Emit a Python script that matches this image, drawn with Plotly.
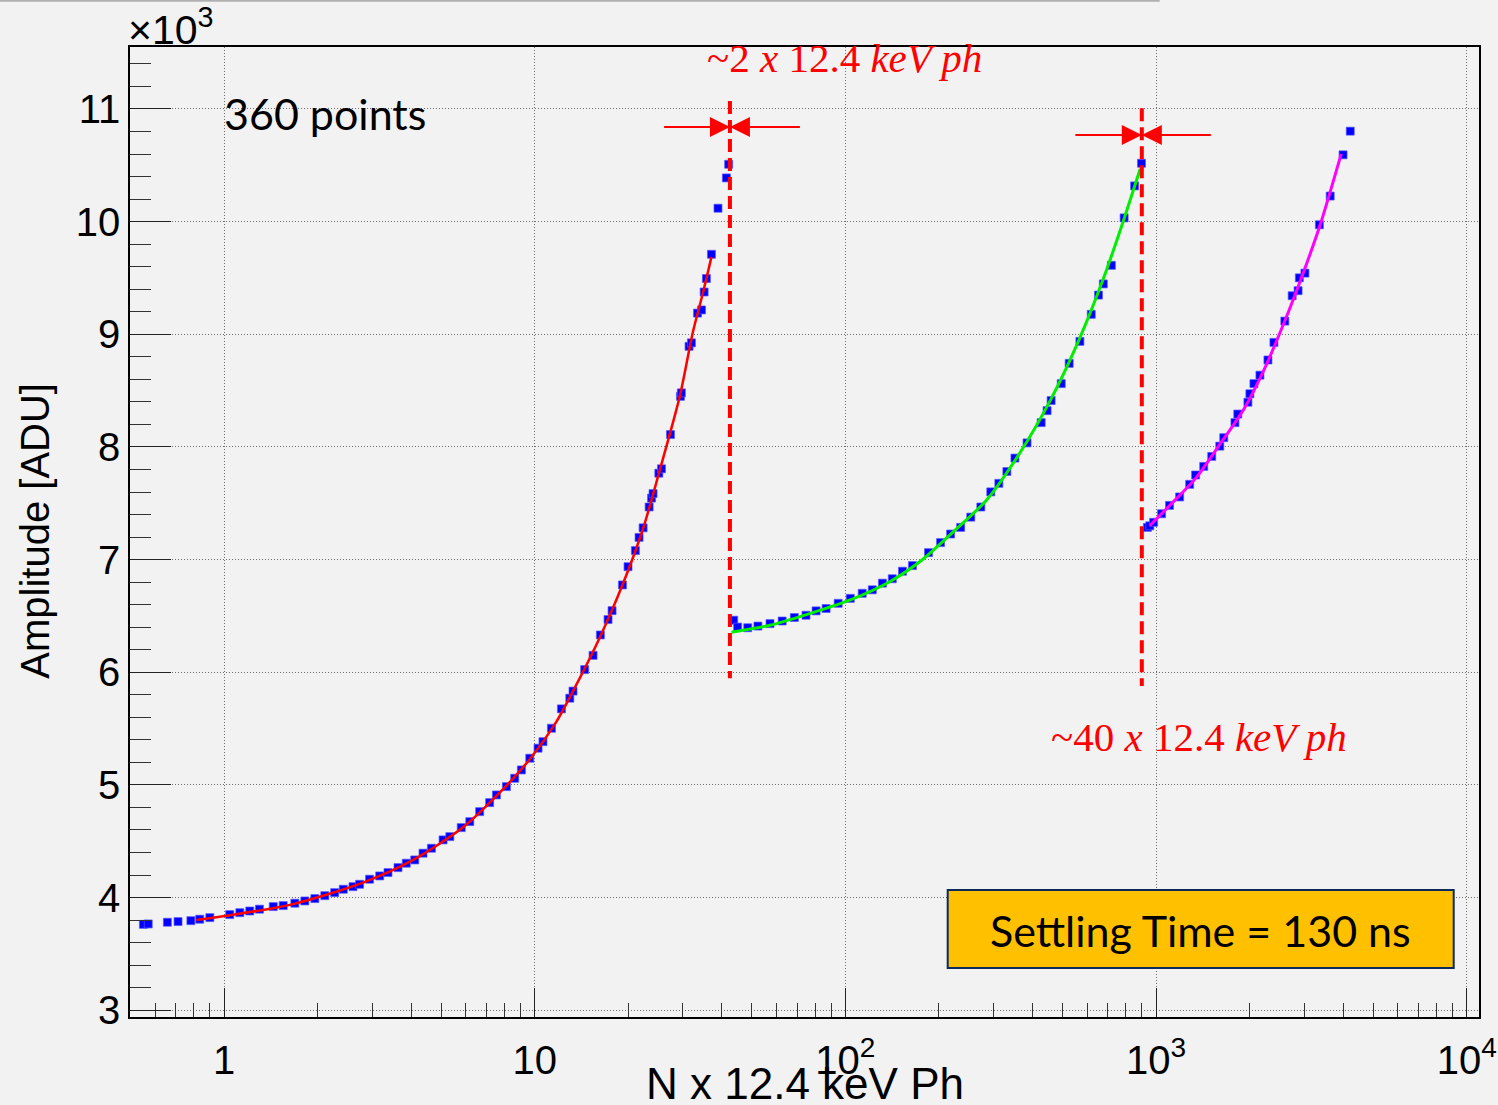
import math
import plotly.graph_objects as go

# ---------------- measured points (N photons, amplitude in ADU) ----------------
n_low = [0.55, 0.57, 0.657, 0.711, 0.782, 0.835, 0.900, 1.043, 1.124, 1.21, 1.30, 1.44,
         1.55, 1.69, 1.82, 1.96, 2.11, 2.27, 2.42, 2.60, 2.73, 2.94, 3.17, 3.37, 3.63,
         3.86, 4.11, 4.37, 4.65, 5.07, 5.33, 5.80, 6.18, 6.65, 7.16, 7.53, 8.11, 8.62,
         9.06, 9.64, 10.25, 10.63, 11.32, 12.19, 12.97, 13.28, 14.48, 15.41, 16.27,
         17.22, 17.74, 19.16, 19.97, 21.09, 21.67, 22.33, 23.35, 23.77, 24.04, 25.09,
         25.59, 27.35, 29.45, 29.65, 31.39, 31.95, 33.42, 34.43, 35.10, 35.70, 37.06,
         38.9, 41.4, 42.1]
amp_low = [3762, 3766, 3781, 3787, 3795, 3808, 3822, 3849, 3866, 3881, 3897, 3920,
           3929, 3950, 3970, 3991, 4017, 4044, 4074, 4097, 4118, 4163, 4192, 4222, 4266,
           4305, 4334, 4394, 4438, 4512, 4541, 4621, 4674, 4763, 4843, 4911, 4985, 5059,
           5133, 5237, 5326, 5384, 5503, 5675, 5770, 5833, 6024, 6150, 6331,
           6468, 6547, 6775, 6937, 7080, 7197, 7282, 7467, 7546, 7586, 7767,
           7806, 8110, 8449, 8480, 8893, 8924, 9188, 9216, 9375, 9495, 9710,
           10119, 10388, 10509]

n_mid = [43.7, 45.0, 48.5, 52.3, 57.2, 62.6, 68.5, 74.7, 80.5, 86.7, 94.8, 103.7, 113.3,
         122.1, 131.6, 141.6, 152.7, 164.4, 185.2, 202.5, 218.1, 235.0, 253.3, 272.9,
         293.8, 311.9, 331.0, 351.4, 384.4, 426.9, 446.0, 459.5, 495.3, 525.3, 568.8,
         618.7, 652.8, 676.6, 718.2, 789.4, 853.1, 897.7]
amp_mid = [6462, 6401, 6395, 6410, 6432, 6455, 6486, 6506, 6545, 6566, 6612, 6656, 6701,
           6732, 6791, 6830, 6897, 6947, 7062, 7151, 7227, 7286, 7377, 7467,
           7601, 7677, 7782, 7901, 8036, 8216, 8322, 8412, 8562, 8742, 8937,
           9177, 9348, 9447, 9612, 10033, 10317, 10518]

n_high = [938, 955, 982, 1042, 1105, 1191, 1283, 1341, 1424, 1511, 1604, 1652, 1795, 1833,
          1976, 2005, 2066, 2160, 2292, 2396, 2598, 2743, 2866, 2893, 3015, 3356,
          3636, 4000, 4219]
amp_high = [7286, 7300, 7331, 7407, 7481, 7556, 7668, 7751, 7827, 7916, 8007, 8082, 8216, 8292,
            8397, 8472, 8562, 8637, 8772, 8928, 9117, 9342, 9387, 9501, 9543, 9972,
            10227, 10593, 10803]

# ---------------- fitted curves ----------------
fit_low_n = [0.815, 1.005, 1.63, 2.80, 4.06, 5.88, 7.53, 9.64, 11.75, 13.78, 16.2, 19.23,
             22.33, 25.2, 29.3, 32.3, 34.8, 37.05]
fit_low_amp = [3801, 3837, 3935, 4133, 4334, 4624, 4902, 5228, 5562, 5917, 6309, 6785,
               7276, 7783, 8449, 9020, 9368, 9685]

fit_mid_n = [43.0, 57.2, 76.7, 103.7, 139.3, 177.3, 221.5, 284.5, 361.6, 459.5, 565.6,
             676.6, 784.0, 889.0]
fit_mid_amp = [6356, 6417, 6521, 6642, 6806, 7001, 7242, 7527, 7932, 8427, 8953,
               9492, 10002, 10467]

fit_high_n = [954, 1122, 1341, 1604, 1919, 2224, 2583, 2998, 3376, 3946]
fit_high_amp = [7301, 7497, 7721, 8022, 8337, 8682, 9102, 9567, 9972, 10602]

# ---------------- range boundaries and markers ----------------
switch_n = [42.5, 900]            # gain-switch thresholds
switch_top = [11070, 11006]
switch_bottom = [5947, 5879]
arrow_amp = [10840, 10769]
arrow_left = [25.8, 544]
arrow_right = [72.2, 1518]

x_tickvals = [1, 10, 100, 1000, 10000]
x_ticktext = ["1", "10", "10<sup>2</sup>", "10<sup>3</sup>", "10<sup>4</sup>"]
y_tickvals = [3000, 4000, 5000, 6000, 7000, 8000, 9000, 10000, 11000]
y_ticktext = ["3", "4", "5", "6", "7", "8", "9", "10", "11"]

X_RANGE = [math.log10(0.498), math.log10(10956)]
Y_RANGE = [2940, 11550]

BG = "#f2f2f2"
SANS = "Liberation Sans, Arial, sans-serif"
AXIS_FONT = dict(family=SANS, size=40, color="black")
SERIF_RED = dict(family="Liberation Serif, serif", size=41, color="#ff0000")

fig = go.Figure()

# measured points
for xs, ys in [(n_low, amp_low), (n_mid, amp_mid), (n_high, amp_high)]:
    fig.add_trace(go.Scatter(
        x=xs, y=ys, mode="markers",
        marker=dict(symbol="square", size=8, color="#0000ff",
                    line=dict(width=1, color="rgba(90,90,255,0.7)")),
        hoverinfo="x+y"))

# fitted curves
for xs, ys, col, w in [(fit_low_n, fit_low_amp, "#ff0000", 2.5),
                       (fit_mid_n, fit_mid_amp, "#00ee00", 3),
                       (fit_high_n, fit_high_amp, "#ff00ff", 3)]:
    fig.add_trace(go.Scatter(x=xs, y=ys, mode="lines",
                             line=dict(color=col, width=w, shape="spline", smoothing=0.8),
                             hoverinfo="skip"))

# dashed switch lines
for xv, y0, y1 in zip(switch_n, switch_top, switch_bottom):
    fig.add_trace(go.Scatter(x=[xv, xv], y=[y0, y1], mode="lines",
                             line=dict(color="#ff0000", width=4, dash="13px,6px"),
                             hoverinfo="skip"))

annotations = []
# inward arrows marking each threshold
for xv, ya, xl, xr in zip(switch_n, arrow_amp, arrow_left, arrow_right):
    for start in (xl, xr):
        annotations.append(dict(
            x=math.log10(xv), y=ya, ax=math.log10(start), ay=ya,
            xref="x", yref="y", axref="x", ayref="y",
            text="", showarrow=True, arrowhead=2, arrowsize=2,
            arrowwidth=2, arrowcolor="#ff0000", standoff=0))

W_PLOT = 1349.0
H_PLOT = 970.0


def px_x(p):
    return (p - 130.3) / W_PLOT


def px_y(p):
    return (1017.0 - p) / H_PLOT


annotations += [
    dict(text="~2 <i>x</i> 12.4 <i>keV ph</i>", x=px_x(845), y=px_y(58),
         xref="paper", yref="paper", showarrow=False, font=SERIF_RED,
         xanchor="center", yanchor="middle"),
    dict(text="~40 <i>x</i> 12.4 <i>keV ph</i>", x=px_x(1199), y=px_y(737),
         xref="paper", yref="paper", showarrow=False, font=SERIF_RED,
         xanchor="center", yanchor="middle"),
    dict(text="360 points", x=px_x(222), y=px_y(114), xref="paper", yref="paper",
         showarrow=False, xanchor="left", yanchor="middle",
         font=dict(family="Lato, sans-serif", size=43, color="black")),
    dict(text="Settling Time = 130 ns", x=px_x(1201), y=px_y(930), xref="paper",
         yref="paper", showarrow=False, xanchor="center", yanchor="middle",
         font=dict(family="Lato, sans-serif", size=43, color="black")),
    dict(text="\u00d710<sup>3</sup>", x=0, y=1, xref="paper", yref="paper",
         showarrow=False, xanchor="left", yanchor="bottom", yshift=-8, xshift=-4,
         font=dict(family=SANS, size=41, color="black")),
    dict(text="N x 12.4 keV Ph", x=px_x(805), y=px_y(1083), xref="paper", yref="paper",
         showarrow=False, xanchor="center", yanchor="middle",
         font=dict(family=SANS, size=44, color="black")),
    dict(text="Amplitude [ADU]", x=px_x(35), y=px_y(531), xref="paper", yref="paper",
         showarrow=False, xanchor="center", yanchor="middle", textangle=-90,
         font=AXIS_FONT),
]

shapes = [
    # settling time box
    dict(type="rect", xref="paper", yref="paper", x0=px_x(948), x1=px_x(1454),
         y0=px_y(968), y1=px_y(890), fillcolor="#ffc000",
         line=dict(color="#0b2a5c", width=2), layer="above"),
    # thin frame line along the top of the page
    dict(type="line", xref="paper", yref="paper", x0=px_x(0), x1=px_x(1160),
         y0=px_y(0.8), y1=px_y(0.8), line=dict(color="#b0b0b0", width=2)),
]

x_minor = [d * 10 ** k for k in range(-1, 4) for d in range(2, 10)
           if 0.498 <= d * 10 ** k <= 10956]
y_minor = [v for v in range(3000, 11600, 200) if v % 1000 != 0]

grid_style = dict(showgrid=True, gridcolor="#6e6e6e", gridwidth=1, griddash="1px,2px",
                  zeroline=False, showline=True, linecolor="black", linewidth=1.5,
                  mirror=True, ticks="inside", tickwidth=1, tickcolor="#222",
                  tickfont=AXIS_FONT, automargin=False)

fig.update_layout(
    width=1498, height=1105,
    margin=dict(l=130.3, r=18.7, t=47, b=88, autoexpand=False),
    paper_bgcolor=BG, plot_bgcolor=BG,
    showlegend=False,
    xaxis=dict(type="log", range=X_RANGE, tickmode="array", tickvals=x_tickvals,
               ticktext=x_ticktext, ticklen=29, ticklabelstandoff=7,
               minor=dict(tickmode="array", tickvals=x_minor, ticks="inside", ticklen=14,
                          tickwidth=1, tickcolor="#333", showgrid=False),
               **grid_style),
    yaxis=dict(range=Y_RANGE, tickmode="array", tickvals=y_tickvals, ticktext=y_ticktext,
               ticklen=41, ticklabelstandoff=0,
               minor=dict(tickmode="array", tickvals=y_minor, ticks="inside", ticklen=21,
                          tickwidth=1, tickcolor="#333", showgrid=False),
               **grid_style),
    annotations=annotations,
    shapes=shapes,
)

fig.write_html("out.html")
